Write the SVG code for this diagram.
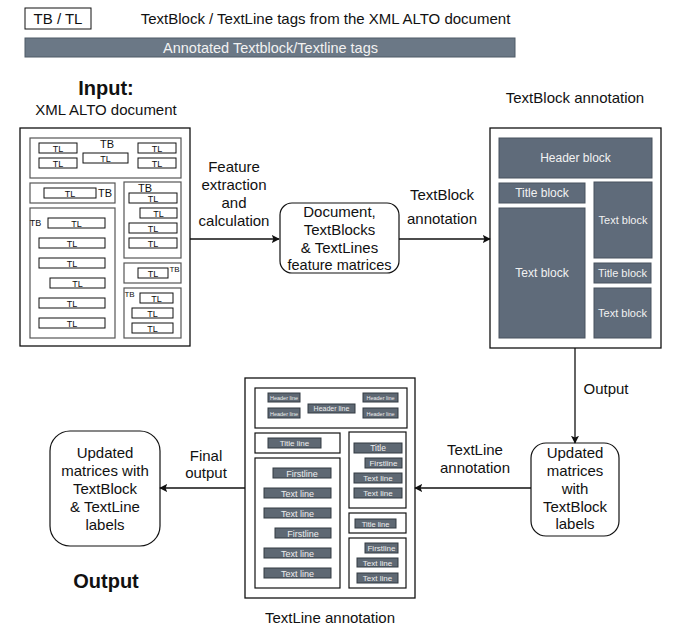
<svg xmlns="http://www.w3.org/2000/svg" width="673" height="629" viewBox="0 0 673 629">
<defs>
<style>
text{font-family:"Liberation Sans",Arial,sans-serif;fill:#111;text-anchor:middle}
.t14{font-size:15px}
.b18{font-size:20px;font-weight:bold}
.frame{fill:#fff;stroke:#111;stroke-width:1.3}
.tb{fill:none;stroke:#555;stroke-width:1.2}
.tl{fill:#fff;stroke:#111;stroke-width:1}
.tltx{font-size:9px}
.tbtx{font-size:11px}
.blk{fill:#5f6b7a;stroke:#48525e;stroke-width:1}
.bt{fill:#f2f2f2;font-size:11.5px}
.ln{fill:#5e6873;stroke:#333a42;stroke-width:1}
.lt{fill:#eee}
.tbk{fill:none;stroke:#111;stroke-width:1.2}
.rb{fill:#fff;stroke:#111;stroke-width:1.2}
.conn{stroke:#111;stroke-width:1.3;fill:none;marker-end:url(#ah)}
</style>
<marker id="ah" viewBox="0 0 10 10" refX="9" refY="5" markerWidth="8" markerHeight="8" markerUnits="userSpaceOnUse" orient="auto">
<path d="M0,0 L10,5 L0,10 L2,5 z" fill="#111"/>
</marker>
</defs>
<rect width="673" height="629" fill="#fff"/>

<g id="legend">
<rect x="25" y="8" width="66" height="21" fill="#fff" stroke="#111" stroke-width="1"/>
<text x="58" y="23.5" class="t14">TB / TL</text>
<text x="325.5" y="23.5" class="t14">TextBlock / TextLine tags from the XML ALTO document</text>
<rect x="25" y="38" width="490" height="19" fill="#6b7886" stroke="#4f5a66" stroke-width="1"/>
<text x="270.5" y="52.5" style="font-size:14.5px;fill:#f2f2f2">Annotated Textblock/Textline tags</text>
</g>

<g id="input-title">
<text x="106" y="95" class="b18">Input:</text>
<text x="106" y="115" class="t14">XML ALTO document</text>
</g>

<g id="alto-document">
<rect x="20" y="128" width="170" height="218" class="frame"/>
<rect x="30" y="138" width="151" height="40" class="tb"/>
<text x="107" y="148" class="tbtx">TB</text>
<rect x="39" y="143" width="38" height="10" class="tl"/><text x="58" y="151.5" class="tltx">TL</text>
<rect x="39" y="158" width="38" height="10" class="tl"/><text x="58" y="166.5" class="tltx">TL</text>
<rect x="83" y="153" width="45" height="10" class="tl"/><text x="105.5" y="161.5" class="tltx">TL</text>
<rect x="138" y="143" width="38" height="10" class="tl"/><text x="157" y="151.5" class="tltx">TL</text>
<rect x="138" y="158" width="38" height="10" class="tl"/><text x="157" y="166.5" class="tltx">TL</text>

<rect x="30" y="183" width="85" height="20" class="tb"/>
<rect x="44" y="188" width="52" height="10" class="tl"/><text x="70" y="196.5" class="tltx">TL</text>
<text x="105" y="197" class="tbtx">TB</text>

<rect x="30" y="208" width="85" height="130" class="tb"/>
<text x="35.5" y="226" style="font-size:9px">TB</text>
<rect x="48" y="218" width="57" height="10" class="tl"/><text x="76.5" y="226.5" class="tltx">TL</text>
<rect x="39" y="238" width="66" height="10" class="tl"/><text x="72" y="246.5" class="tltx">TL</text>
<rect x="39" y="258" width="66" height="10" class="tl"/><text x="72" y="266.5" class="tltx">TL</text>
<rect x="50" y="278" width="55" height="10" class="tl"/><text x="77.5" y="286.5" class="tltx">TL</text>
<rect x="39" y="298" width="66" height="10" class="tl"/><text x="72" y="306.5" class="tltx">TL</text>
<rect x="39" y="318" width="66" height="10" class="tl"/><text x="72" y="326.5" class="tltx">TL</text>

<rect x="124" y="182" width="57" height="76" class="tb"/>
<text x="145" y="192" class="tbtx">TB</text>
<rect x="129" y="193" width="48" height="10" class="tl"/><text x="153" y="201.5" class="tltx">TL</text>
<rect x="140" y="208" width="37" height="10" class="tl"/><text x="158.5" y="216.5" class="tltx">TL</text>
<rect x="129" y="223" width="48" height="10" class="tl"/><text x="153" y="231.5" class="tltx">TL</text>
<rect x="129" y="238" width="48" height="10" class="tl"/><text x="153" y="246.5" class="tltx">TL</text>

<rect x="124" y="263" width="57" height="20" class="tb"/>
<rect x="138" y="268" width="30" height="10" class="tl"/><text x="153" y="276.5" class="tltx">TL</text>
<text x="174.5" y="272" style="font-size:8px">TB</text>

<rect x="124" y="288" width="57" height="50" class="tb"/>
<text x="129.5" y="297" style="font-size:8px">TB</text>
<rect x="140" y="293" width="33" height="10" class="tl"/><text x="156.5" y="301.5" class="tltx">TL</text>
<rect x="132" y="308" width="41" height="10" class="tl"/><text x="152.5" y="316.5" class="tltx">TL</text>
<rect x="132" y="323" width="41" height="10" class="tl"/><text x="152.5" y="331.5" class="tltx">TL</text>
</g>

<g id="feature-matrices">
<rect x="280" y="203" width="119" height="70" rx="12" class="rb"/>
<text x="339.5" y="217" class="t14">Document,</text>
<text x="339.5" y="235" class="t14">TextBlocks</text>
<text x="339.5" y="253" class="t14">&amp; TextLines</text>
<text x="339.5" y="270" style="font-size:14.5px">feature matrices</text>
</g>

<g id="textblock-annotation">
<text x="575" y="103" class="t14">TextBlock annotation</text>
<rect x="490" y="128" width="171" height="220" class="frame"/>
<rect x="499" y="138" width="153" height="40" class="blk"/><text x="575.5" y="162" class="bt" style="font-size:12px">Header block</text>
<rect x="499" y="183" width="86" height="20" class="blk"/><text x="542" y="197" class="bt" style="font-size:12px">Title block</text>
<rect x="499" y="208" width="86" height="130" class="blk"/><text x="542" y="277" class="bt" style="font-size:12px">Text block</text>
<rect x="594" y="182" width="58" height="76" class="blk"/><text x="623" y="224" class="bt" style="font-size:11px">Text block</text>
<rect x="594" y="263" width="57" height="20" class="blk"/><text x="622.5" y="277" class="bt" style="font-size:11px">Title block</text>
<rect x="594" y="288" width="57" height="50" class="blk"/><text x="622.5" y="317" class="bt" style="font-size:11px">Text block</text>
</g>

<g id="updated-tb">
<rect x="531" y="443" width="88" height="93" rx="15" class="rb"/>
<text x="575" y="458" class="t14">Updated</text>
<text x="575" y="476" class="t14">matrices</text>
<text x="575" y="494" class="t14">with</text>
<text x="575" y="512" class="t14">TextBlock</text>
<text x="575" y="529" class="t14">labels</text>
</g>

<g id="textline-annotation">
<rect x="245" y="378" width="170" height="220" class="frame"/>
<rect x="255" y="388" width="152" height="40" class="tbk"/>
<rect x="268" y="393" width="32" height="9" class="ln"/><text x="284" y="400" class="lt" style="font-size:5.5px">Header line</text>
<rect x="268" y="408" width="32" height="10" class="ln"/><text x="284" y="415.5" class="lt" style="font-size:5.5px">Header line</text>
<rect x="308" y="404" width="47" height="9" class="ln"/><text x="331.5" y="411" class="lt" style="font-size:7px">Header line</text>
<rect x="363" y="393" width="35" height="9" class="ln"/><text x="380.5" y="400" class="lt" style="font-size:5.5px">Header line</text>
<rect x="363" y="408" width="35" height="10" class="ln"/><text x="380.5" y="415.5" class="lt" style="font-size:5.5px">Header line</text>

<rect x="255" y="433" width="85" height="20" class="tbk"/>
<rect x="268" y="438" width="53" height="10" class="ln"/><text x="294.5" y="446" class="lt" style="font-size:8px">Title line</text>

<rect x="255" y="458" width="85" height="130" class="tbk"/>
<rect x="273" y="468" width="58" height="10" class="ln"/><text x="302" y="476.5" class="lt" style="font-size:9px">Firstline</text>
<rect x="264" y="488" width="67" height="10" class="ln"/><text x="297.5" y="496.5" class="lt" style="font-size:9px">Text line</text>
<rect x="264" y="508" width="67" height="10" class="ln"/><text x="297.5" y="516.5" class="lt" style="font-size:9px">Text line</text>
<rect x="275" y="528" width="56" height="10" class="ln"/><text x="303" y="536.5" class="lt" style="font-size:9px">Firstline</text>
<rect x="264" y="548" width="67" height="10" class="ln"/><text x="297.5" y="556.5" class="lt" style="font-size:9px">Text line</text>
<rect x="264" y="568" width="67" height="10" class="ln"/><text x="297.5" y="576.5" class="lt" style="font-size:9px">Text line</text>

<rect x="349" y="432" width="57" height="76" class="tbk"/>
<rect x="354" y="443" width="48" height="10" class="ln"/><text x="378" y="451" class="lt" style="font-size:8.5px">Title</text>
<rect x="365" y="458" width="37" height="10" class="ln"/><text x="383.5" y="466" class="lt" style="font-size:8px">Firstline</text>
<rect x="354" y="473" width="48" height="10" class="ln"/><text x="378" y="481" class="lt" style="font-size:8px">Text line</text>
<rect x="354" y="488" width="48" height="10" class="ln"/><text x="378" y="496" class="lt" style="font-size:8px">Text line</text>

<rect x="349" y="513" width="57" height="20" class="tbk"/>
<rect x="355" y="519" width="41" height="9" class="ln"/><text x="375.5" y="526.5" class="lt" style="font-size:7.5px">Title line</text>

<rect x="349" y="538" width="57" height="50" class="tbk"/>
<rect x="365" y="543" width="33" height="10" class="ln"/><text x="381.5" y="551" class="lt" style="font-size:8px">Firstline</text>
<rect x="357" y="558" width="41" height="9" class="ln"/><text x="377.5" y="565.5" class="lt" style="font-size:8px">Text line</text>
<rect x="357" y="573" width="41" height="10" class="ln"/><text x="377.5" y="581" class="lt" style="font-size:8px">Text line</text>
<text x="330" y="623" class="t14">TextLine annotation</text>
</g>

<g id="final-output">
<rect x="50" y="431" width="110" height="115" rx="20" class="rb"/>
<text x="105" y="458" class="t14">Updated</text>
<text x="105" y="476" class="t14">matrices with</text>
<text x="105" y="494" class="t14">TextBlock</text>
<text x="105" y="512" class="t14">&amp; TextLine</text>
<text x="105" y="530" class="t14">labels</text>
<text x="106" y="588" class="b18">Output</text>
</g>

<g id="connectors">
<path d="M190,239 H279" class="conn"/>
<path d="M399,239 H490" class="conn"/>
<path d="M575,348 V443" class="conn"/>
<path d="M531,488 H415" class="conn"/>
<path d="M245,488 H160" class="conn"/>
<text x="234" y="172" class="t14">Feature</text>
<text x="234" y="190" class="t14">extraction</text>
<text x="234" y="208" class="t14">and</text>
<text x="234" y="226" class="t14">calculation</text>
<text x="442" y="200" class="t14">TextBlock</text>
<text x="442" y="224" class="t14">annotation</text>
<text x="606" y="394" class="t14">Output</text>
<text x="475" y="455" class="t14">TextLine</text>
<text x="475" y="473" class="t14">annotation</text>
<text x="206" y="461" class="t14">Final</text>
<text x="206" y="478" class="t14">output</text>
</g>
</svg>
